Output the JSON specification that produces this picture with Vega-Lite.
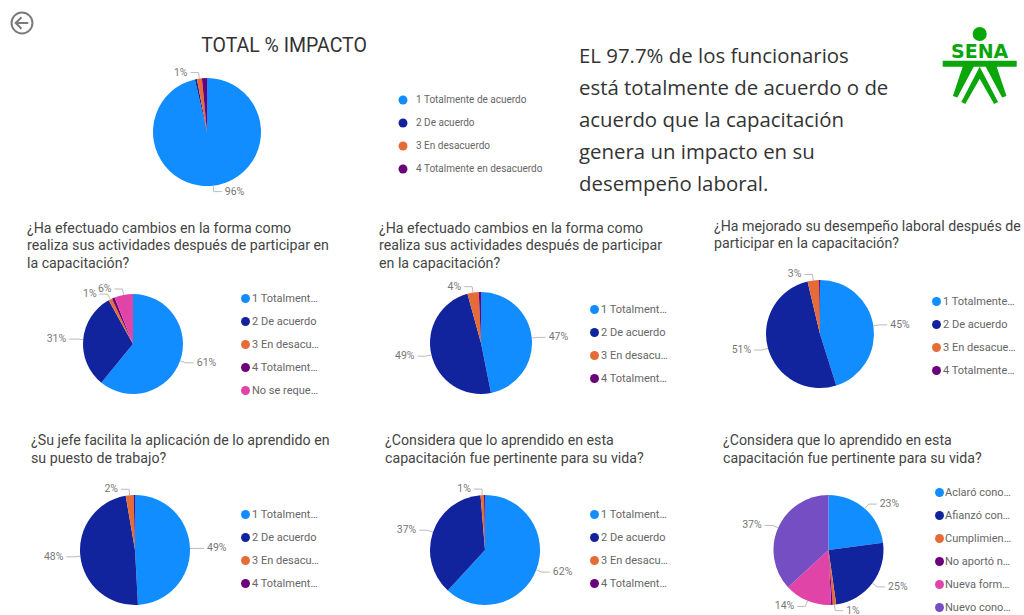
{"$schema":"https://vega.github.io/schema/vega-lite/v6.json","padding":0,"background":"white","spacing":17,
"resolve":{"scale":{"color":"independent","theta":"independent"}},
"config":{"view":{"stroke":null},"range":{"category":["#118DFF","#12239E","#E66C37","#6B007B","#E044A7","#744EC2"]},
"title":{"font":"Roboto","fontSize":14.2,"fontWeight":"normal","color":"#444","lineHeight":17.5,"anchor":"start","frame":"group","offset":0},
"legend":{"title":null,"orient":"none","padding":0,"symbolType":"circle","symbolSize":80,"symbolStrokeWidth":0,"labelFont":"Roboto","labelFontSize":11,"labelColor":"#666","rowPadding":11,"labelOffset":1,"labelLimit":68}},
"datasets":{
"p0":[{"cat":"1 Totalmente de acuerdo","pct":96.4,"label":"96%"},{"cat":"2 De acuerdo","pct":0.6},{"cat":"3 En desacuerdo","pct":1.5,"label":"1%"},{"cat":"4 Totalmente en desacuerdo","pct":1.5}],
"p1":[{"cat":"1 Totalmente de acuerdo","pct":60.9,"label":"61%"},{"cat":"2 De acuerdo","pct":31,"label":"31%"},{"cat":"3 En desacuerdo","pct":1.2,"label":"1%"},{"cat":"4 Totalmente en desacuerdo","pct":0.9},{"cat":"No se requería","pct":6,"label":"6%"}],
"p2":[{"cat":"1 Totalmente de acuerdo","pct":47,"label":"47%"},{"cat":"2 De acuerdo","pct":49,"label":"49%"},{"cat":"3 En desacuerdo","pct":3.6,"label":"4%"},{"cat":"4 Totalmente en desacuerdo","pct":0.7}],
"p3":[{"cat":"1 Totalmente de acuerdo","pct":45,"label":"45%"},{"cat":"2 De acuerdo","pct":51,"label":"51%"},{"cat":"3 En desacuerdo","pct":3.4,"label":"3%"},{"cat":"4 Totalmente en desacuerdo","pct":0.3}],
"p4":[{"cat":"1 Totalmente de acuerdo","pct":49,"label":"49%"},{"cat":"2 De acuerdo","pct":48,"label":"48%"},{"cat":"3 En desacuerdo","pct":2.3,"label":"2%"},{"cat":"4 Totalmente en desacuerdo","pct":0.4}],
"p5":[{"cat":"1 Totalmente de acuerdo","pct":62,"label":"62%"},{"cat":"2 De acuerdo","pct":37,"label":"37%"},{"cat":"3 En desacuerdo","pct":1,"label":"1%"},{"cat":"4 Totalmente en desacuerdo","pct":0.3}],
"p6":[{"cat":"Aclaró conocimientos","pct":23,"label":"23%"},{"cat":"Afianzó conocimientos","pct":25,"label":"25%"},{"cat":"Cumplimiento de requisitos","pct":1,"label":"1%"},{"cat":"No aportó nada","pct":0.5},{"cat":"Nueva forma de hacer","pct":14,"label":"14%"},{"cat":"Nuevo conocimiento","pct":37,"label":"37%"}]},
"vconcat":[
{"spacing":-45,"resolve":{"scale":{"color":"independent","theta":"independent"}},"vconcat":[
{"spacing":0,"bounds":"flush","resolve":{"scale":{"color":"independent","theta":"independent"}},"hconcat":[
{"width":414,"height":264,"title":{"text":"TOTAL % IMPACTO","anchor":"middle","fontSize":19.5,"dx":77,"dy":60,"color":"#333"},
"layer":[
{"data":{"name":"p0"},"mark":{"type":"arc","outerRadius":54},"encoding":{"theta":{"field":"pct","type":"quantitative","stack":true},"order":{"field":"cat"},"color":{"field":"cat","type":"nominal","legend":{"legendX":398,"legendY":95,"labelLimit":160,"labelFontSize":10,"labelOffset":8,"rowPadding":13}}}},
{"data":{"name":"p0"},"transform":[{"joinaggregate":[{"op":"sum","field":"pct","as":"t"}]},{"window":[{"op":"sum","field":"pct","as":"c"}],"sort":[{"field":"cat"}]},{"calculate":"(datum.c-datum.pct/2)/datum.t*2*PI","as":"m"},{"calculate":"datum.m<PI?1:-1","as":"s"},{"calculate":"54*sin(datum.m)","as":"x0"},{"calculate":"54*cos(datum.m)","as":"y0"},{"calculate":"60*sin(datum.m)","as":"x1"},{"calculate":"60*cos(datum.m)","as":"y1"},{"calculate":"datum.x1+datum.s*8","as":"x2"},{"calculate":"datum.x2+datum.s*3","as":"tx"},{"filter":"datum.label"}],
"layer":[
{"mark":{"type":"rule","color":"#bbb","strokeWidth":1},"encoding":{"x":{"field":"x0","type":"quantitative","scale":{"domain":[-207,207]},"axis":null},"x2":{"field":"x1"},"y":{"field":"y0","type":"quantitative","scale":{"domain":[-132,132]},"axis":null},"y2":{"field":"y1"}}},
{"mark":{"type":"rule","color":"#bbb","strokeWidth":1},"encoding":{"x":{"field":"x1","type":"quantitative","scale":{"domain":[-207,207]},"axis":null},"x2":{"field":"x2"},"y":{"field":"y1","type":"quantitative","scale":{"domain":[-132,132]},"axis":null}}},
{"mark":{"type":"text","font":"Roboto","fontSize":10.5,"color":"#777","align":{"expr":"datum.s>0?'left':'right'"}},"encoding":{"x":{"field":"tx","type":"quantitative","scale":{"domain":[-207,207]},"axis":null},"y":{"field":"y1","type":"quantitative","scale":{"domain":[-132,132]},"axis":null},"text":{"field":"label"}}}]},
{"data":{"values":[{"icon":"back"}]},"mark":{"type":"point","shape":"circle","filled":false,"size":440,"color":"#444","strokeWidth":2},"encoding":{"x":{"datum":-185,"type":"quantitative","scale":{"domain":[-207,207]},"axis":null},"y":{"datum":109,"type":"quantitative","scale":{"domain":[-132,132]},"axis":null}}},
{"data":{"values":[{"icon":"back"}]},"mark":{"type":"point","shape":"M-0.6,0H0.6M-0.05,-0.55L-0.6,0L-0.05,0.55","filled":false,"size":440,"color":"#444","strokeWidth":2},"encoding":{"x":{"datum":-185,"type":"quantitative","scale":{"domain":[-207,207]},"axis":null},"y":{"datum":109,"type":"quantitative","scale":{"domain":[-132,132]},"axis":null}}}
]},
{"width":513,"height":264,"data":{"values":[{"n":1,"line":"EL  97.7% de los funcionarios"},{"n":2,"line":"está totalmente de acuerdo o de"},{"n":3,"line":"acuerdo que la capacitación"},{"n":4,"line":"genera un impacto en su"},{"n":5,"line":"desempeño laboral."}]},
"mark":{"type":"text","align":"left","font":"Open Sans","fontSize":20.4,"color":"#333"},
"encoding":{"x":{"datum":0,"type":"quantitative","scale":{"domain":[-165,348]},"axis":null},"y":{"field":"n","type":"quantitative","scale":{"domain":[7.47,-0.78]},"axis":null},"text":{"field":"line"}}},
{"width":97,"height":264,"layer":[
{"data":{"values":[{"part":"head"}]},"mark":{"type":"point","shape":"circle","filled":true,"opacity":1,"size":200,"color":"#0AA60A"},"encoding":{"x":{"datum":52.7,"type":"quantitative","scale":{"domain":[0,97]},"axis":null},"y":{"datum":34,"type":"quantitative","scale":{"domain":[264,0]},"axis":null}}},
{"data":{"values":[{"part":"SENA"}]},"mark":{"type":"text","font":"DejaVu Sans","fontWeight":"bold","fontSize":19,"color":"#0AA60A"},"encoding":{"x":{"datum":52.7,"type":"quantitative","scale":{"domain":[0,97]},"axis":null},"y":{"datum":52,"type":"quantitative","scale":{"domain":[264,0]},"axis":null},"text":{"field":"part"}}},
{"data":{"values":[{"part":"body"}]},"mark":{"type":"point","shape":"M-0.925,-0.15H0.925V0H-0.925Z M-0.425,0H-0.15L-0.56,0.77L-0.67,0.73Z M0.425,0H0.15L0.56,0.77L0.67,0.73Z M0,0L0.46,0.88L0.36,0.93L0,0.3L-0.36,0.93L-0.46,0.88Z","filled":true,"opacity":1,"size":6400,"color":"#0AA60A"},"encoding":{"x":{"datum":52.7,"type":"quantitative","scale":{"domain":[0,97]},"axis":null},"y":{"datum":66.7,"type":"quantitative","scale":{"domain":[264,0]},"axis":null}}}
]}
]},
{"spacing":0,"bounds":"flush","resolve":{"scale":{"color":"independent","theta":"independent"}},"hconcat":[
{"width":266,"height":146,"title":{"text":["¿Ha efectuado cambios en la forma como","realiza sus actividades después de participar en","la capacitación?"],"dx":27,"dy":4},"data":{"name":"p1"},
"transform":[{"joinaggregate":[{"op":"sum","field":"pct","as":"t"}]},{"window":[{"op":"sum","field":"pct","as":"c"}],"sort":[{"field":"cat"}]},{"calculate":"(datum.c-datum.pct/2)/datum.t*2*PI","as":"m"},{"calculate":"datum.m<PI?1:-1","as":"s"},{"calculate":"50*sin(datum.m)","as":"x0"},{"calculate":"50*cos(datum.m)","as":"y0"},{"calculate":"56*sin(datum.m)","as":"x1"},{"calculate":"56*cos(datum.m)","as":"y1"},{"calculate":"datum.x1+datum.s*8","as":"x2"},{"calculate":"datum.x2+datum.s*3","as":"tx"}],
"layer":[
{"mark":{"type":"arc","outerRadius":50},"encoding":{"theta":{"field":"pct","type":"quantitative","stack":true},"order":{"field":"cat"},"color":{"field":"cat","type":"nominal","legend":{"legendX":240,"legendY":22}}}},
{"transform":[{"filter":"datum.label"}],"mark":{"type":"rule","color":"#bbb"},"encoding":{"x":{"field":"x0","type":"quantitative","scale":{"domain":[-133,133]},"axis":null},"x2":{"field":"x1"},"y":{"field":"y0","type":"quantitative","scale":{"domain":[-73,73]},"axis":null},"y2":{"field":"y1"}}},
{"transform":[{"filter":"datum.label"}],"mark":{"type":"rule","color":"#bbb"},"encoding":{"x":{"field":"x1","type":"quantitative","scale":{"domain":[-133,133]},"axis":null},"x2":{"field":"x2"},"y":{"field":"y1","type":"quantitative","scale":{"domain":[-73,73]},"axis":null}}},
{"transform":[{"filter":"datum.label"}],"mark":{"type":"text","font":"Roboto","fontSize":10.5,"color":"#777","align":{"expr":"datum.s>0?'left':'right'"}},"encoding":{"x":{"field":"tx","type":"quantitative","scale":{"domain":[-133,133]},"axis":null},"y":{"field":"y1","type":"quantitative","scale":{"domain":[-73,73]},"axis":null},"text":{"field":"label"}}}]},
{"width":430,"height":144,"title":{"text":["¿Ha efectuado cambios en la forma como","realiza sus actividades después de participar","en la capacitación?"],"dx":113,"dy":4},"data":{"name":"p2"},
"transform":[{"joinaggregate":[{"op":"sum","field":"pct","as":"t"}]},{"window":[{"op":"sum","field":"pct","as":"c"}],"sort":[{"field":"cat"}]},{"calculate":"(datum.c-datum.pct/2)/datum.t*2*PI","as":"m"},{"calculate":"datum.m<PI?1:-1","as":"s"},{"calculate":"51*sin(datum.m)","as":"x0"},{"calculate":"51*cos(datum.m)","as":"y0"},{"calculate":"57*sin(datum.m)","as":"x1"},{"calculate":"57*cos(datum.m)","as":"y1"},{"calculate":"datum.x1+datum.s*8","as":"x2"},{"calculate":"datum.x2+datum.s*3","as":"tx"}],
"layer":[
{"mark":{"type":"arc","outerRadius":51},"encoding":{"theta":{"field":"pct","type":"quantitative","stack":true},"order":{"field":"cat"},"color":{"field":"cat","type":"nominal","legend":{"legendX":323,"legendY":33}}}},
{"transform":[{"filter":"datum.label"}],"mark":{"type":"rule","color":"#bbb"},"encoding":{"x":{"field":"x0","type":"quantitative","scale":{"domain":[-215,215]},"axis":null},"x2":{"field":"x1"},"y":{"field":"y0","type":"quantitative","scale":{"domain":[-72,72]},"axis":null},"y2":{"field":"y1"}}},
{"transform":[{"filter":"datum.label"}],"mark":{"type":"rule","color":"#bbb"},"encoding":{"x":{"field":"x1","type":"quantitative","scale":{"domain":[-215,215]},"axis":null},"x2":{"field":"x2"},"y":{"field":"y1","type":"quantitative","scale":{"domain":[-72,72]},"axis":null}}},
{"transform":[{"filter":"datum.label"}],"mark":{"type":"text","font":"Roboto","fontSize":10.5,"color":"#777","align":{"expr":"datum.s>0?'left':'right'"}},"encoding":{"x":{"field":"tx","type":"quantitative","scale":{"domain":[-215,215]},"axis":null},"y":{"field":"y1","type":"quantitative","scale":{"domain":[-72,72]},"axis":null},"text":{"field":"label"}}}]},
{"width":248,"height":126,"title":{"text":["¿Ha mejorado su desempeño laboral después de","participar en la capacitación?"],"dx":18,"dy":-14},"data":{"name":"p3"},
"transform":[{"joinaggregate":[{"op":"sum","field":"pct","as":"t"}]},{"window":[{"op":"sum","field":"pct","as":"c"}],"sort":[{"field":"cat"}]},{"calculate":"(datum.c-datum.pct/2)/datum.t*2*PI","as":"m"},{"calculate":"datum.m<PI?1:-1","as":"s"},{"calculate":"54*sin(datum.m)","as":"x0"},{"calculate":"54*cos(datum.m)","as":"y0"},{"calculate":"60*sin(datum.m)","as":"x1"},{"calculate":"60*cos(datum.m)","as":"y1"},{"calculate":"datum.x1+datum.s*8","as":"x2"},{"calculate":"datum.x2+datum.s*3","as":"tx"}],
"layer":[
{"mark":{"type":"arc","outerRadius":54},"encoding":{"theta":{"field":"pct","type":"quantitative","stack":true},"order":{"field":"cat"},"color":{"field":"cat","type":"nominal","legend":{"legendX":235,"legendY":25,"labelLimit":74}}}},
{"transform":[{"filter":"datum.label"}],"mark":{"type":"rule","color":"#bbb"},"encoding":{"x":{"field":"x0","type":"quantitative","scale":{"domain":[-124,124]},"axis":null},"x2":{"field":"x1"},"y":{"field":"y0","type":"quantitative","scale":{"domain":[-63,63]},"axis":null},"y2":{"field":"y1"}}},
{"transform":[{"filter":"datum.label"}],"mark":{"type":"rule","color":"#bbb"},"encoding":{"x":{"field":"x1","type":"quantitative","scale":{"domain":[-124,124]},"axis":null},"x2":{"field":"x2"},"y":{"field":"y1","type":"quantitative","scale":{"domain":[-63,63]},"axis":null}}},
{"transform":[{"filter":"datum.label"}],"mark":{"type":"text","font":"Roboto","fontSize":10.5,"color":"#777","align":{"expr":"datum.s>0?'left':'right'"}},"encoding":{"x":{"field":"tx","type":"quantitative","scale":{"domain":[-124,124]},"axis":null},"y":{"field":"y1","type":"quantitative","scale":{"domain":[-63,63]},"axis":null},"text":{"field":"label"}}}]}
]}
]},
{"spacing":0,"bounds":"flush","resolve":{"scale":{"color":"independent","theta":"independent"}},"hconcat":[
{"width":270,"height":132,"title":{"text":["¿Su jefe facilita la aplicación de lo aprendido en","su puesto de trabajo?"],"dx":31,"dy":-14},"data":{"name":"p4"},
"transform":[{"joinaggregate":[{"op":"sum","field":"pct","as":"t"}]},{"window":[{"op":"sum","field":"pct","as":"c"}],"sort":[{"field":"cat"}]},{"calculate":"(datum.c-datum.pct/2)/datum.t*2*PI","as":"m"},{"calculate":"datum.m<PI?1:-1","as":"s"},{"calculate":"55*sin(datum.m)","as":"x0"},{"calculate":"55*cos(datum.m)","as":"y0"},{"calculate":"61*sin(datum.m)","as":"x1"},{"calculate":"61*cos(datum.m)","as":"y1"},{"calculate":"datum.x1+datum.s*8","as":"x2"},{"calculate":"datum.x2+datum.s*3","as":"tx"}],
"layer":[
{"mark":{"type":"arc","outerRadius":55},"encoding":{"theta":{"field":"pct","type":"quantitative","stack":true},"order":{"field":"cat"},"color":{"field":"cat","type":"nominal","legend":{"legendX":240,"legendY":25}}}},
{"transform":[{"filter":"datum.label"}],"mark":{"type":"rule","color":"#bbb"},"encoding":{"x":{"field":"x0","type":"quantitative","scale":{"domain":[-135,135]},"axis":null},"x2":{"field":"x1"},"y":{"field":"y0","type":"quantitative","scale":{"domain":[-66,66]},"axis":null},"y2":{"field":"y1"}}},
{"transform":[{"filter":"datum.label"}],"mark":{"type":"rule","color":"#bbb"},"encoding":{"x":{"field":"x1","type":"quantitative","scale":{"domain":[-135,135]},"axis":null},"x2":{"field":"x2"},"y":{"field":"y1","type":"quantitative","scale":{"domain":[-66,66]},"axis":null}}},
{"transform":[{"filter":"datum.label"}],"mark":{"type":"text","font":"Roboto","fontSize":10.5,"color":"#777","align":{"expr":"datum.s>0?'left':'right'"}},"encoding":{"x":{"field":"tx","type":"quantitative","scale":{"domain":[-135,135]},"axis":null},"y":{"field":"y1","type":"quantitative","scale":{"domain":[-66,66]},"axis":null},"text":{"field":"label"}}}]},
{"width":430,"height":132,"title":{"text":["¿Considera que lo aprendido en esta","capacitación fue pertinente para su vida?"],"dx":115,"dy":-14},"data":{"name":"p5"},
"transform":[{"joinaggregate":[{"op":"sum","field":"pct","as":"t"}]},{"window":[{"op":"sum","field":"pct","as":"c"}],"sort":[{"field":"cat"}]},{"calculate":"(datum.c-datum.pct/2)/datum.t*2*PI","as":"m"},{"calculate":"datum.m<PI?1:-1","as":"s"},{"calculate":"55*sin(datum.m)","as":"x0"},{"calculate":"55*cos(datum.m)","as":"y0"},{"calculate":"61*sin(datum.m)","as":"x1"},{"calculate":"61*cos(datum.m)","as":"y1"},{"calculate":"datum.x1+datum.s*8","as":"x2"},{"calculate":"datum.x2+datum.s*3","as":"tx"}],
"layer":[
{"mark":{"type":"arc","outerRadius":55},"encoding":{"theta":{"field":"pct","type":"quantitative","stack":true},"order":{"field":"cat"},"color":{"field":"cat","type":"nominal","legend":{"legendX":319,"legendY":25}}}},
{"transform":[{"filter":"datum.label"}],"mark":{"type":"rule","color":"#bbb"},"encoding":{"x":{"field":"x0","type":"quantitative","scale":{"domain":[-215,215]},"axis":null},"x2":{"field":"x1"},"y":{"field":"y0","type":"quantitative","scale":{"domain":[-66,66]},"axis":null},"y2":{"field":"y1"}}},
{"transform":[{"filter":"datum.label"}],"mark":{"type":"rule","color":"#bbb"},"encoding":{"x":{"field":"x1","type":"quantitative","scale":{"domain":[-215,215]},"axis":null},"x2":{"field":"x2"},"y":{"field":"y1","type":"quantitative","scale":{"domain":[-66,66]},"axis":null}}},
{"transform":[{"filter":"datum.label"}],"mark":{"type":"text","font":"Roboto","fontSize":10.5,"color":"#777","align":{"expr":"datum.s>0?'left':'right'"}},"encoding":{"x":{"field":"tx","type":"quantitative","scale":{"domain":[-215,215]},"axis":null},"y":{"field":"y1","type":"quantitative","scale":{"domain":[-66,66]},"axis":null},"text":{"field":"label"}}}]},
{"width":257,"height":132,"title":{"text":["¿Considera que lo aprendido en esta","capacitación fue pertinente para su vida?"],"dx":23,"dy":-14},"data":{"name":"p6"},
"transform":[{"joinaggregate":[{"op":"sum","field":"pct","as":"t"}]},{"window":[{"op":"sum","field":"pct","as":"c"}],"sort":[{"field":"cat"}]},{"calculate":"(datum.c-datum.pct/2)/datum.t*2*PI","as":"m"},{"calculate":"datum.m<PI?1:-1","as":"s"},{"calculate":"55*sin(datum.m)","as":"x0"},{"calculate":"55*cos(datum.m)","as":"y0"},{"calculate":"61*sin(datum.m)","as":"x1"},{"calculate":"61*cos(datum.m)","as":"y1"},{"calculate":"datum.x1+datum.s*8","as":"x2"},{"calculate":"datum.x2+datum.s*3","as":"tx"}],
"layer":[
{"mark":{"type":"arc","outerRadius":55},"encoding":{"theta":{"field":"pct","type":"quantitative","stack":true},"order":{"field":"cat"},"color":{"field":"cat","type":"nominal","legend":{"legendX":234,"legendY":3,"labelOffset":0,"labelLimit":68}}}},
{"transform":[{"filter":"datum.label"}],"mark":{"type":"rule","color":"#bbb"},"encoding":{"x":{"field":"x0","type":"quantitative","scale":{"domain":[-128.5,128.5]},"axis":null},"x2":{"field":"x1"},"y":{"field":"y0","type":"quantitative","scale":{"domain":[-66,66]},"axis":null},"y2":{"field":"y1"}}},
{"transform":[{"filter":"datum.label"}],"mark":{"type":"rule","color":"#bbb"},"encoding":{"x":{"field":"x1","type":"quantitative","scale":{"domain":[-128.5,128.5]},"axis":null},"x2":{"field":"x2"},"y":{"field":"y1","type":"quantitative","scale":{"domain":[-66,66]},"axis":null}}},
{"transform":[{"filter":"datum.label"}],"mark":{"type":"text","font":"Roboto","fontSize":10.5,"color":"#777","align":{"expr":"datum.s>0?'left':'right'"}},"encoding":{"x":{"field":"tx","type":"quantitative","scale":{"domain":[-128.5,128.5]},"axis":null},"y":{"field":"y1","type":"quantitative","scale":{"domain":[-66,66]},"axis":null},"text":{"field":"label"}}}]}
]}
]}
